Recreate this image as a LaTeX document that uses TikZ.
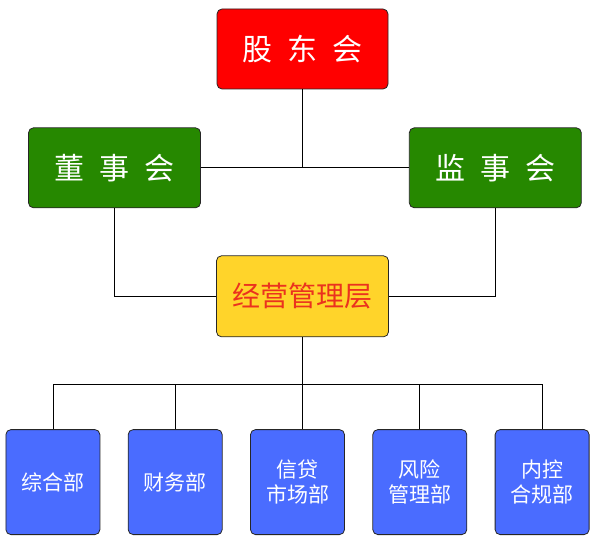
\documentclass[tikz,border=0pt]{standalone}
\usepackage{fontspec}
\newfontfamily\cjk{Noto Sans CJK SC}
\usepackage{tikz}
\usetikzlibrary{positioning}

\definecolor{topred}{RGB}{255,0,0}
\definecolor{boardgreen}{RGB}{38,136,0}
\definecolor{mgmtyellow}{RGB}{255,212,42}
\definecolor{mgmttext}{RGB}{235,50,30}
\definecolor{deptblue}{RGB}{74,108,255}
\newcommand\wgap{\hspace{15pt}}

\begin{document}
\begin{tikzpicture}[x=1pt, y=1pt, node distance=27.5pt,
  lvl/.style={draw=black!85, line width=0.8pt, rounded corners=5pt, text=white, align=center, font=\cjk\fontsize{30}{36}\selectfont, minimum width=172pt, minimum height=80pt, inner sep=0pt},
  dept/.style={draw=black!85, line width=0.8pt, rounded corners=5pt, fill=deptblue, text=white, align=center, font=\cjk\fontsize{21}{25}\selectfont, minimum width=94pt, minimum height=105pt, inner sep=0pt},
  link/.style={draw=black, line width=0.8pt}]
  \useasboundingbox (0,0) rectangle (609,-545);
  \node[lvl, fill=topred, minimum width=171pt] (gd) at (302.5,-49) {股\wgap 东\wgap 会};
  \node[lvl, fill=boardgreen, below=38pt of gd, xshift=-188pt] (ds) {董\wgap 事\wgap 会};
  \node[lvl, fill=boardgreen, right=208pt of ds] (js) {监\wgap 事\wgap 会};
  \node[lvl, fill=mgmtyellow, text=mgmttext, below=166pt of gd, minimum height=81pt, font=\cjk\fontsize{28}{34}\selectfont] (jy) {经营管理层};
  \node[dept, below=92pt of jy, xshift=-5pt] (b3) {信贷\\市场部};
  \node[dept, left=of b3] (b2) {财务部};
  \node[dept, left=of b2] (b1) {综合部};
  \node[dept, right=of b3] (b4) {风险\\管理部};
  \node[dept, right=of b4] (b5) {内控\\合规部};
  % upper links
  \draw[link] (ds) -- (js);
  \draw[link] (gd) -- (gd |- ds);
  \draw[link] (ds) |- (jy);
  \draw[link] (js) |- (jy);
  % lower links
  \draw[link] (jy.south) -- (jy.south |- b3.north);
  \coordinate (bus) at ([yshift=-47pt]jy.south);
  \draw[link] (b1.north) |- (bus) -| (b5.north);
  \draw[link] (b2.north) -- (b2.north |- bus);
  \draw[link] (b4.north) -- (b4.north |- bus);
\end{tikzpicture}
\end{document}
